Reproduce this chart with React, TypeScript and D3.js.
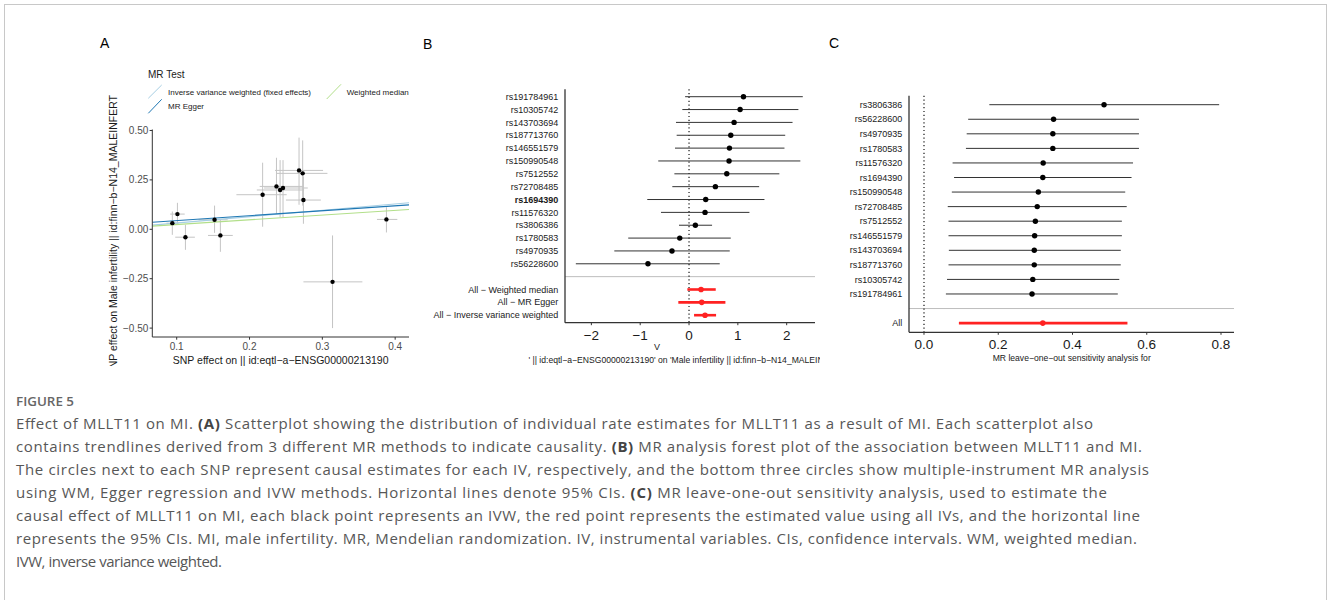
import React from 'react';
import * as d3 from 'd3';

// ---- panel A: per-SNP effects (exposure on x, outcome on y)
const scatterBx = [0.094, 0.101, 0.112, 0.152, 0.160, 0.218, 0.237, 0.242, 0.246, 0.268, 0.273, 0.274, 0.388, 0.314];
const scatterBy = [0.031, 0.077, -0.040, 0.048, -0.031, 0.175, 0.217, 0.199, 0.209, 0.298, 0.283, 0.148, 0.050, -0.266];
const scatterBxLo = [0.086, 0.091, 0.098, 0.130, 0.143, 0.182, 0.214, 0.210, 0.220, 0.235, 0.237, 0.250, 0.375, 0.274];
const scatterBxHi = [0.103, 0.111, 0.125, 0.170, 0.177, 0.251, 0.274, 0.275, 0.280, 0.301, 0.307, 0.298, 0.403, 0.355];
const scatterByLo = [-0.028, 0.023, -0.104, -0.018, -0.114, 0.013, 0.079, 0.060, 0.060, 0.124, 0.120, 0.028, -0.016, -0.500];
const scatterByHi = [0.090, 0.134, 0.023, 0.120, 0.048, 0.337, 0.362, 0.350, 0.350, 0.464, 0.450, 0.268, 0.112, -0.031];

const methodNames = ['Inverse variance weighted (fixed effects)', 'MR Egger', 'Weighted median'];
const methodIntercepts = [0, 0.019, 0];
const methodSlopes = [0.32, 0.25, 0.24];
const methodColors = ['#a6cee3', '#1f78b4', '#b2df8a'];

// ---- panel B: single SNP forest plot
const forestSnps = ['rs191784961', 'rs10305742', 'rs143703694', 'rs187713760', 'rs146551579', 'rs150990548', 'rs7512552', 'rs72708485', 'rs1694390', 'rs11576320', 'rs3806386', 'rs1780583', 'rs4970935', 'rs56228600'];
const forestB = [1.115, 1.046, 0.923, 0.855, 0.828, 0.82, 0.773, 0.54, 0.342, 0.328, 0.13, -0.19, -0.349, -0.841];
const forestLo = [-0.08, -0.137, -0.267, -0.253, -0.287, -0.63, -0.30, -0.342, -0.855, -0.574, -0.205, -1.245, -1.53, -2.318];
const forestHi = [2.33, 2.24, 2.12, 1.97, 1.955, 2.28, 1.85, 1.436, 1.545, 1.237, 0.472, 0.855, 0.834, 0.629];
const summaryNames = ['All − Weighted median', 'All − MR Egger', 'All − Inverse variance weighted'];
const summaryB = [0.246, 0.26, 0.328];
const summaryLo = [-0.034, -0.219, 0.103];
const summaryHi = [0.547, 0.745, 0.554];
const forestTicks = [-2, -1, 0, 1, 2];

// ---- panel C: leave-one-out
const looSnps = ['rs3806386', 'rs56228600', 'rs4970935', 'rs1780583', 'rs11576320', 'rs1694390', 'rs150990548', 'rs72708485', 'rs7512552', 'rs146551579', 'rs143703694', 'rs187713760', 'rs10305742', 'rs191784961'];
const looB = [0.485, 0.349, 0.347, 0.347, 0.321, 0.320, 0.308, 0.305, 0.300, 0.298, 0.297, 0.297, 0.293, 0.291];
const looLo = [0.176, 0.119, 0.115, 0.113, 0.077, 0.081, 0.075, 0.064, 0.066, 0.066, 0.067, 0.066, 0.062, 0.059];
const looHi = [0.795, 0.579, 0.579, 0.579, 0.563, 0.559, 0.542, 0.546, 0.533, 0.533, 0.530, 0.530, 0.526, 0.522];
const looAll = { b: 0.320, lo: 0.094, hi: 0.548 };
const looTicks = [0, 0.2, 0.4, 0.6, 0.8];

const captionLines = [
  ['Effect of MLLT11 on MI. ', '(A)', ' Scatterplot showing the distribution of individual rate estimates for MLLT11 as a result of MI. Each scatterplot also'],
  ['contains trendlines derived from 3 different MR methods to indicate causality. ', '(B)', ' MR analysis forest plot of the association between MLLT11 and MI.'],
  ['The circles next to each SNP represent causal estimates for each IV, respectively, and the bottom three circles show multiple-instrument MR analysis'],
  ['using WM, Egger regression and IVW methods. Horizontal lines denote 95% CIs. ', '(C)', ' MR leave-one-out sensitivity analysis, used to estimate the'],
  ['causal effect of MLLT11 on MI, each black point represents an IVW, the red point represents the estimated value using all IVs, and the horizontal line'],
  ['represents the 95% CIs. MI, male infertility. MR, Mendelian randomization. IV, instrumental variables. CIs, confidence intervals. WM, weighted median.'],
  ['IVW, inverse variance weighted.'],
];
const captionEnds = [1093, 1142, 1149, 1107, 1140, 1137, 222];

const FONT = '"Liberation Sans", Arial, sans-serif';
const fmtMinus = (s: string) => s.replace('-', '−');

const ScatterPanel = () => {
  const x = d3.scaleLinear().domain([0.0665, 0.419]).range([152.3, 409]);
  const y = d3.scaleLinear().domain([-0.545, 0.505]).range([337, 129.5]);
  const [x0, x1] = x.range();
  const [y0, y1] = y.range();
  const idx = d3.range(scatterBx.length);
  return (
    <g>
      <text x={100} y={48} fontSize={14} fontFamily={FONT}>A</text>
      {/* legend */}
      <text x={148} y={77.5} fontSize={10} fontFamily={FONT} fill="#1a1a1a">MR Test</text>
      <line x1={148.3} y1={98.3} x2={161.7} y2={85} stroke={methodColors[0]} strokeWidth={1} />
      <text x={168} y={94.5} fontSize={8} fontFamily={FONT} fill="#1a1a1a">{methodNames[0]}</text>
      <line x1={148.3} y1={113.3} x2={161.7} y2={99.3} stroke={methodColors[1]} strokeWidth={1} />
      <text x={168} y={109} fontSize={8} fontFamily={FONT} fill="#1a1a1a">{methodNames[1]}</text>
      <line x1={326.7} y1={99} x2={341} y2={84.3} stroke={methodColors[2]} strokeWidth={1} />
      <text x={346.7} y={94.5} fontSize={8} fontFamily={FONT} fill="#1a1a1a">{methodNames[2]}</text>

      <clipPath id="clipA"><rect x={x0} y={y1} width={x1 - x0} height={y0 - y1} /></clipPath>
      <g clipPath="url(#clipA)">
        {idx.map(i => (
          <g key={i} stroke="#c4c4c4" strokeWidth={1}>
            <line x1={x(scatterBx[i])} x2={x(scatterBx[i])} y1={y(scatterByLo[i])} y2={y(scatterByHi[i])} />
            <line x1={x(scatterBxLo[i])} x2={x(scatterBxHi[i])} y1={y(scatterBy[i])} y2={y(scatterBy[i])} />
          </g>
        ))}
        {methodNames.map((m, k) => {
          const xs = x.domain();
          return (
            <line key={m}
              x1={x(xs[0])} y1={y(methodIntercepts[k] + methodSlopes[k] * xs[0])}
              x2={x(xs[1])} y2={y(methodIntercepts[k] + methodSlopes[k] * xs[1])}
              stroke={methodColors[k]} strokeWidth={1.1} />
          );
        })}
        {idx.map(i => (
          <circle key={i} cx={x(scatterBx[i])} cy={y(scatterBy[i])} r={2.2} fill="#000" />
        ))}
      </g>

      {/* axes */}
      <line x1={x0} x2={x0} y1={y1} y2={y0} stroke="#333" strokeWidth={1} />
      <line x1={x0} x2={x1} y1={y0} y2={y0} stroke="#333" strokeWidth={1} />
      {[-0.5, -0.25, 0, 0.25, 0.5].map(t => (
        <g key={t}>
          <line x1={x0 - 2.7} x2={x0} y1={y(t)} y2={y(t)} stroke="#333" />
          <text x={x0 - 4} y={y(t)} dy="0.35em" textAnchor="end" fontSize={10} fontFamily={FONT} fill="#4d4d4d">{fmtMinus(d3.format('.2f')(t))}</text>
        </g>
      ))}
      {[0.1, 0.2, 0.3, 0.4].map(t => (
        <g key={t}>
          <line x1={x(t)} x2={x(t)} y1={y0} y2={y0 + 2.7} stroke="#333" />
          <text x={x(t)} y={y0 + 13} textAnchor="middle" fontSize={10} fontFamily={FONT} fill="#4d4d4d">{d3.format('.1f')(t)}</text>
        </g>
      ))}
      <text x={(x0 + x1) / 2} y={364} textAnchor="middle" fontSize={10.5} fontFamily={FONT} fill="#1a1a1a">SNP effect on  || id:eqtl−a−ENSG00000213190</text>
      <text transform="translate(113,95) rotate(-90)" dy="0.35em" textAnchor="end" fontSize={10.5} fontFamily={FONT} fill="#1a1a1a">SNP effect on Male infertility || id:finn−b−N14_MALEINFERT</text>
    </g>
  );
};

const ForestPanel = () => {
  const x = d3.scaleLinear().domain([-2.54, 2.58]).range([565, 815]);
  const rows = [...forestSnps, '', ...summaryNames];
  const y = d3.scalePoint<string>().domain(rows).range([96.7, 315.2]);
  const [x0, x1] = x.range();
  const top = 89.3, bottom = 322.7;
  return (
    <g>
      <text x={423} y={49} fontSize={14} fontFamily={FONT}>B</text>
      <line x1={x0} x2={x1} y1={y('')} y2={y('')} stroke="#bdbdbd" strokeWidth={1} />
      <line x1={x(0)} x2={x(0)} y1={top} y2={bottom} stroke="#000" strokeWidth={1.1} strokeDasharray="1.2,2.6" />
      {forestSnps.map((s, i) => (
        <g key={s}>
          <line x1={x(forestLo[i])} x2={x(forestHi[i])} y1={y(s)} y2={y(s)} stroke="#333" strokeWidth={1} />
          <circle cx={x(forestB[i])} cy={y(s)} r={2.7} fill="#000" />
          <text x={558.3} y={y(s)} dy="0.35em" textAnchor="end" fontSize={9} fontFamily={FONT}
            fontWeight={s === 'rs1694390' ? 'bold' : 'normal'} fill="#1a1a1a">{s}</text>
        </g>
      ))}
      {summaryNames.map((s, i) => (
        <g key={s}>
          <line x1={x(summaryLo[i])} x2={x(summaryHi[i])} y1={y(s)} y2={y(s)} stroke="#f22" strokeWidth={2.6} />
          <circle cx={x(summaryB[i])} cy={y(s)} r={2.8} fill="#f22" />
          <text x={558.3} y={y(s)} dy="0.35em" textAnchor="end" fontSize={9} fontFamily={FONT} fill="#1a1a1a">{s}</text>
        </g>
      ))}
      <line x1={x0} x2={x0} y1={top} y2={bottom} stroke="#333" strokeWidth={1.3} />
      <line x1={x0} x2={x1} y1={bottom} y2={bottom} stroke="#333" strokeWidth={1.3} />
      {forestTicks.map(t => (
        <g key={t}>
          <line x1={x(t)} x2={x(t)} y1={bottom} y2={bottom + 2.5} stroke="#333" />
          <text x={x(t)} y={bottom + 17} textAnchor="middle" fontSize={13.5} fontFamily={FONT} fill="#1a1a1a">{fmtMinus(String(t))}</text>
        </g>
      ))}
      <clipPath id="clipB"><rect x={420} y={330} width={400} height={40} /></clipPath>
      <g clipPath="url(#clipB)">
        <text x={657} y={350} textAnchor="middle" fontSize={9} fontFamily={FONT} fill="#1a1a1a">V</text>
        <text x={688} y={362.5} textAnchor="middle" fontSize={8.6} fontFamily={FONT} fill="#1a1a1a">' || id:eqtl−a−ENSG00000213190' on 'Male infertility || id:finn−b−N14_MALEINFERT'</text>
      </g>
    </g>
  );
};

const LooPanel = () => {
  const x = d3.scaleLinear().domain([-0.0404, 0.835]).range([909, 1234]);
  const rows = [...looSnps, '', 'All'];
  const y = d3.scalePoint<string>().domain(rows).range([104.7, 323.1]);
  const [x0, x1] = x.range();
  const top = 95.7, bottom = 332.3;
  return (
    <g>
      <text x={829} y={48} fontSize={14} fontFamily={FONT}>C</text>
      <line x1={x0} x2={x1} y1={y('')} y2={y('')} stroke="#bdbdbd" strokeWidth={1} />
      <line x1={x(0)} x2={x(0)} y1={top} y2={bottom} stroke="#000" strokeWidth={1.1} strokeDasharray="1.2,2.6" />
      {looSnps.map((s, i) => (
        <g key={s}>
          <line x1={x(looLo[i])} x2={x(looHi[i])} y1={y(s)} y2={y(s)} stroke="#333" strokeWidth={1} />
          <circle cx={x(looB[i])} cy={y(s)} r={2.7} fill="#000" />
          <text x={902.3} y={y(s)} dy="0.35em" textAnchor="end" fontSize={9} fontFamily={FONT} fill="#1a1a1a">{s}</text>
        </g>
      ))}
      <line x1={x(looAll.lo)} x2={x(looAll.hi)} y1={y('All')} y2={y('All')} stroke="#f22" strokeWidth={2.6} />
      <circle cx={x(looAll.b)} cy={y('All')} r={2.8} fill="#f22" />
      <text x={902.3} y={y('All')} dy="0.35em" textAnchor="end" fontSize={9} fontFamily={FONT} fill="#1a1a1a">All</text>
      <line x1={x0} x2={x0} y1={top} y2={bottom} stroke="#333" strokeWidth={1.3} />
      <line x1={x0} x2={x1} y1={bottom} y2={bottom} stroke="#333" strokeWidth={1.3} />
      {looTicks.map(t => (
        <g key={t}>
          <line x1={x(t)} x2={x(t)} y1={bottom} y2={bottom + 2.5} stroke="#333" />
          <text x={x(t)} y={bottom + 17} textAnchor="middle" fontSize={13.5} fontFamily={FONT} fill="#1a1a1a">{d3.format('.1f')(t)}</text>
        </g>
      ))}
      <text x={1071.7} y={361} textAnchor="middle" fontSize={8.6} fontFamily={FONT} fill="#1a1a1a">MR leave−one−out sensitivity analysis for</text>
    </g>
  );
};

const App = () => {
  const capFont = '"Open Sans", Lato, sans-serif';
  return (
    <div style={{ position: 'absolute', left: 0, top: 0 }}>
      <svg width={1328} height={600} style={{ display: 'block', background: '#fff' }}>
        <rect x={4.5} y={4.5} width={1322} height={620} fill="none" stroke="#c8c8c8" strokeWidth={1} />
        <clipPath id="clipFig"><rect x={0} y={0} width={1328} height={366} /></clipPath>
        <g clipPath="url(#clipFig)">
          <ScatterPanel />
          <ForestPanel />
          <LooPanel />
        </g>
        <text x={16} y={406} fontSize={13} fontFamily={capFont} fontWeight={600} fill="#666"
          textLength={58} lengthAdjust="spacingAndGlyphs">FIGURE 5</text>
        {captionLines.map((parts, i) => (
          <text key={i} x={16} y={429 + i * 23} fontSize={15} fontFamily={capFont} fill="#575757"
            textLength={captionEnds[i] - 16} lengthAdjust="spacing">
            {parts.map((p, j) => (
              <tspan key={j} fontWeight={p.startsWith('(') && p.length === 3 ? 'bold' : 'normal'}
                fill={p.startsWith('(') && p.length === 3 ? '#444' : '#575757'}>{p}</tspan>
            ))}
          </text>
        ))}
      </svg>
    </div>
  );
};

export default App;
